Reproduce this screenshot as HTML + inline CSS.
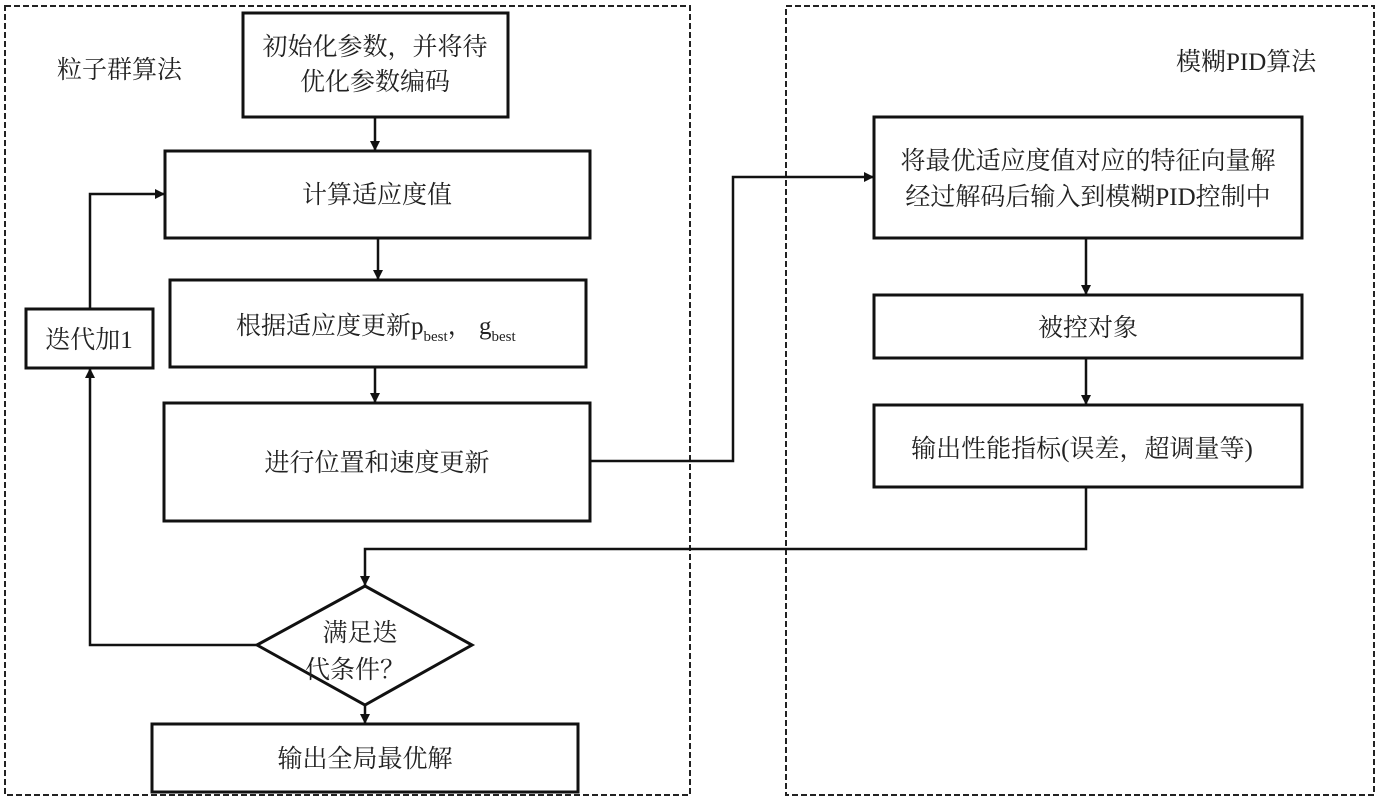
<!DOCTYPE html>
<html><head><meta charset="utf-8"><style>
body{margin:0;background:#fff;}
svg text{font-family:"Liberation Serif","Noto Serif CJK SC",serif;font-size:25px;fill:#222;}
</style></head><body>
<svg width="1380" height="799" viewBox="0 0 1380 799" xmlns="http://www.w3.org/2000/svg">
<defs><marker id="a" markerWidth="10" markerHeight="10" refX="9" refY="5" orient="auto" markerUnits="userSpaceOnUse"><path d="M0,0 L10,5 L0,10 z" fill="#111"/></marker></defs>
<g fill="none" stroke="#222" stroke-width="2" stroke-dasharray="6,3">
<rect x="5" y="6" width="685" height="789"/>
<rect x="786" y="6" width="588" height="789"/>
</g>
<g fill="#fff" stroke="#111" stroke-width="3">
<rect x="243" y="13" width="265" height="104"/>
<rect x="165" y="151" width="425" height="87"/>
<rect x="170" y="280" width="416" height="87"/>
<rect x="164" y="403" width="426" height="118"/>
<rect x="26" y="309" width="127" height="59"/>
<path d="M365,586 L472,645 L365,705 L257,645 Z"/>
<rect x="152" y="724" width="426" height="68"/>
<rect x="874" y="117" width="428" height="121"/>
<rect x="874" y="295" width="428" height="63"/>
<rect x="874" y="405" width="428" height="82"/>
</g>
<g fill="none" stroke="#111" stroke-width="2.5" marker-end="url(#a)">
<path d="M375,117 V150"/>
<path d="M378,238 V279"/>
<path d="M375,367 V402"/>
<path d="M590,461 H733 V177 H873"/>
<path d="M1086,238 V294"/>
<path d="M1086,358 V404"/>
<path d="M1086,487 V549 H365 V585"/>
<path d="M257,645 H90 V369"/>
<path d="M90,309 V194 H164"/>
<path d="M365,705 V723"/>
</g>
<text x="57" y="78">粒子群算法</text>
<text x="1176" y="70">模糊PID算法</text>
<text x="375" y="55" text-anchor="middle">初始化参数，并将待</text>
<text x="375" y="90" text-anchor="middle">优化参数编码</text>
<text x="377" y="203" text-anchor="middle">计算适应度值</text>
<text x="236" y="334">根据适应度更新p<tspan font-size="15" dy="7">best</tspan><tspan dy="-7">，  g</tspan><tspan font-size="15" dy="7">best</tspan></text>
<text x="377" y="471" text-anchor="middle">进行位置和速度更新</text>
<text x="89" y="348" text-anchor="middle">迭代加1</text>
<text x="360" y="641" text-anchor="middle">满足迭</text>
<text x="355" y="678" text-anchor="middle">代条件？</text>
<text x="365" y="767" text-anchor="middle">输出全局最优解</text>
<text x="1088" y="169" text-anchor="middle">将最优适应度值对应的特征向量解</text>
<text x="1088" y="205" text-anchor="middle">经过解码后输入到模糊PID控制中</text>
<text x="1088" y="336" text-anchor="middle">被控对象</text>
<text x="1082" y="457" text-anchor="middle">输出性能指标(误差，超调量等)</text>
</svg>
</body></html>
